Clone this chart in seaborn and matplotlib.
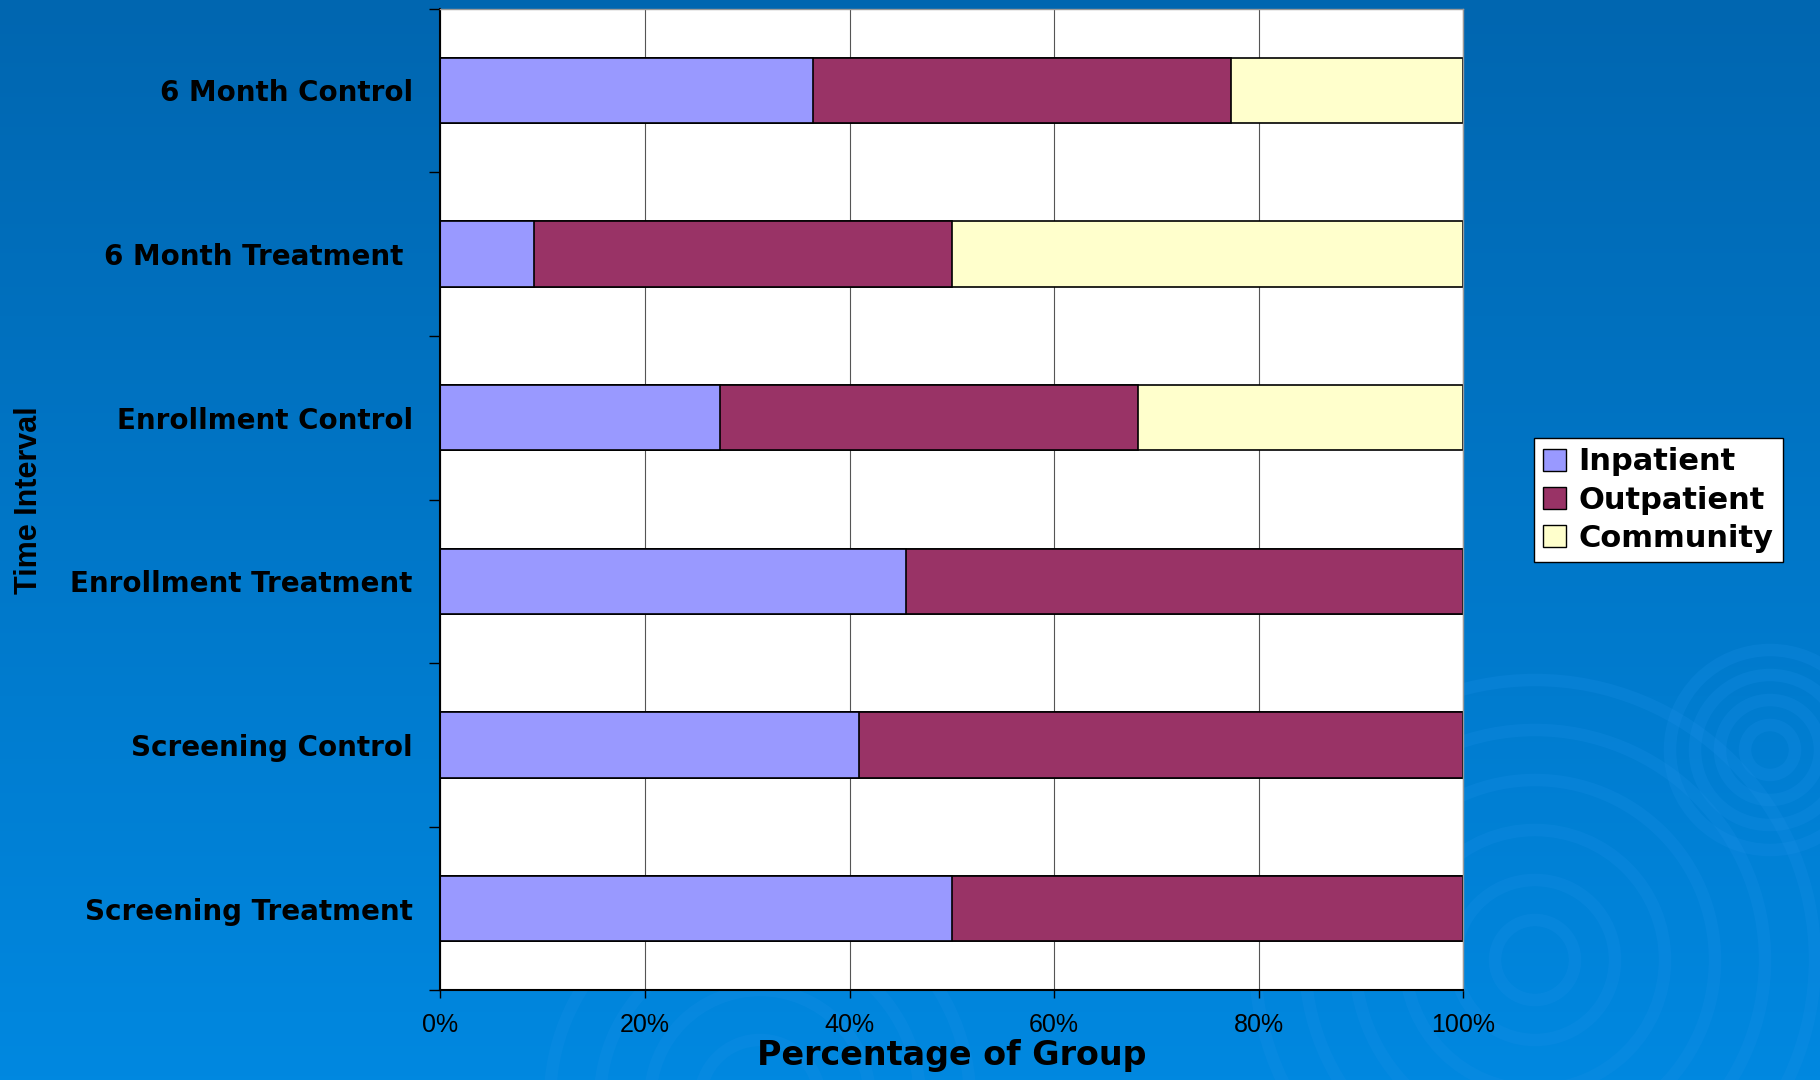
import numpy as np
import pandas as pd
import seaborn as sns
import matplotlib.pyplot as plt
from matplotlib.patches import Patch, Circle
from matplotlib.colors import LinearSegmentedColormap

# 数据（从图上读取的百分比）
groups = ['6 Month Control', '6 Month Treatment ', 'Enrollment Control',
          'Enrollment Treatment', 'Screening Control', 'Screening Treatment']
inpatient = [36.4, 9.1, 27.3, 45.5, 40.9, 50.0]
outpatient = [40.9, 40.9, 40.9, 54.5, 59.1, 50.0]
community = [22.7, 50.0, 31.8, 0.0, 0.0, 0.0]

series_names = ['Inpatient', 'Outpatient', 'Community']
colors = ['#9999FF', '#993366', '#FFFFCC']

sns.set_theme(style='white')
plt.rcParams['font.family'] = ['Liberation Sans', 'DejaVu Sans']
plt.rcParams['text.color'] = 'black'

df = pd.DataFrame({'group': groups, 'Inpatient': inpatient,
                   'Outpatient': outpatient, 'Community': community})
df['cum1'] = df['Inpatient']
df['cum2'] = df['Inpatient'] + df['Outpatient']
df['cum3'] = df['cum2'] + df['Community']

fig = plt.figure(figsize=(18.2, 10.8), dpi=100)

# 背景渐变 + 水波纹
bg = fig.add_axes([0, 0, 1, 1], zorder=-10)
cmap = LinearSegmentedColormap.from_list('bg', ['#0066B0', '#0088E0'])
grad = np.linspace(0, 1, 256).reshape(-1, 1)
bg.imshow(grad, cmap=cmap, aspect='auto', extent=[0, 1820, 0, 1080], origin='upper')
for cx, cy, rads in [(1770, 330, [25, 50, 75, 100]), (1535, 120, [40, 80, 130, 180, 230, 280]),
                     (760, -20, [60, 110, 160, 210])]:
    for r in rads:
        bg.add_patch(Circle((cx, cy), r, fill=False, lw=9, ec='#1a8fe6', alpha=0.25))
bg.set_xlim(0, 1820)
bg.set_ylim(0, 1080)
bg.axis('off')

ax = fig.add_axes([0.242, 0.083, 0.562, 0.909])
ax.set_facecolor('white')

# 堆叠：先画总和，再依次覆盖
sns.barplot(data=df, x='cum3', y='group', orient='h', color=colors[2],
            edgecolor='black', linewidth=1.2, width=0.4, ax=ax, saturation=1)
sns.barplot(data=df, x='cum2', y='group', orient='h', color=colors[1],
            edgecolor='black', linewidth=1.2, width=0.4, ax=ax, saturation=1)
sns.barplot(data=df, x='cum1', y='group', orient='h', color=colors[0],
            edgecolor='black', linewidth=1.2, width=0.4, ax=ax, saturation=1)

ax.set_xlim(0, 100)
ax.set_ylim(5.5, -0.5)
ax.set_xticks(np.arange(0, 101, 20))
ax.set_xticklabels([f'{v}%' for v in range(0, 101, 20)], fontsize=18)
ax.xaxis.grid(True, color='#555555', lw=0.8)
ax.set_axisbelow(True)

# y 轴：刻度线在类别之间，标签在中间
ax.set_yticks(np.arange(-0.5, 6, 1))
ax.set_yticklabels([])
ax.set_yticks(np.arange(len(groups)), minor=True)
ax.set_yticklabels(groups, minor=True, fontsize=20, fontweight='bold', color='black',
                   family='DejaVu Sans')
ax.tick_params(axis='y', which='minor', length=0, pad=20)
ax.tick_params(axis='y', which='major', length=8, width=1, color='black', left=True)
ax.tick_params(axis='x', length=6, width=1, color='black', bottom=True, pad=10, labelcolor='black')

for side in ['left', 'bottom']:
    ax.spines[side].set_color('black')
    ax.spines[side].set_linewidth(1.5)
for side in ['top', 'right']:
    ax.spines[side].set_color('#999999')
    ax.spines[side].set_linewidth(1)

ax.set_xlabel('Percentage of Group', fontsize=24, fontweight='bold', color='black',
              family='DejaVu Sans', labelpad=2)
ax.set_ylabel('')
fig.text(0.016, 0.537, 'Time Interval', rotation=90, fontsize=22, fontweight='bold',
         color='black', ha='center', va='center')

handles = [Patch(facecolor=c, edgecolor='black', label=n) for c, n in zip(colors, series_names)]
leg = fig.legend(handles=handles, loc='center left', bbox_to_anchor=(0.843, 0.537),
                 prop={'family': 'DejaVu Sans', 'weight': 'bold', 'size': 22},
                 frameon=True, fancybox=False, borderpad=0.3, borderaxespad=0,
                 handlelength=0.75, handleheight=0.75, handletextpad=0.4, labelspacing=0.3)
leg.get_frame().set_edgecolor('black')
leg.get_frame().set_facecolor('white')
leg.get_frame().set_alpha(1)
for t in leg.get_texts():
    t.set_color('black')

plt.savefig('out.png', dpi=100)
